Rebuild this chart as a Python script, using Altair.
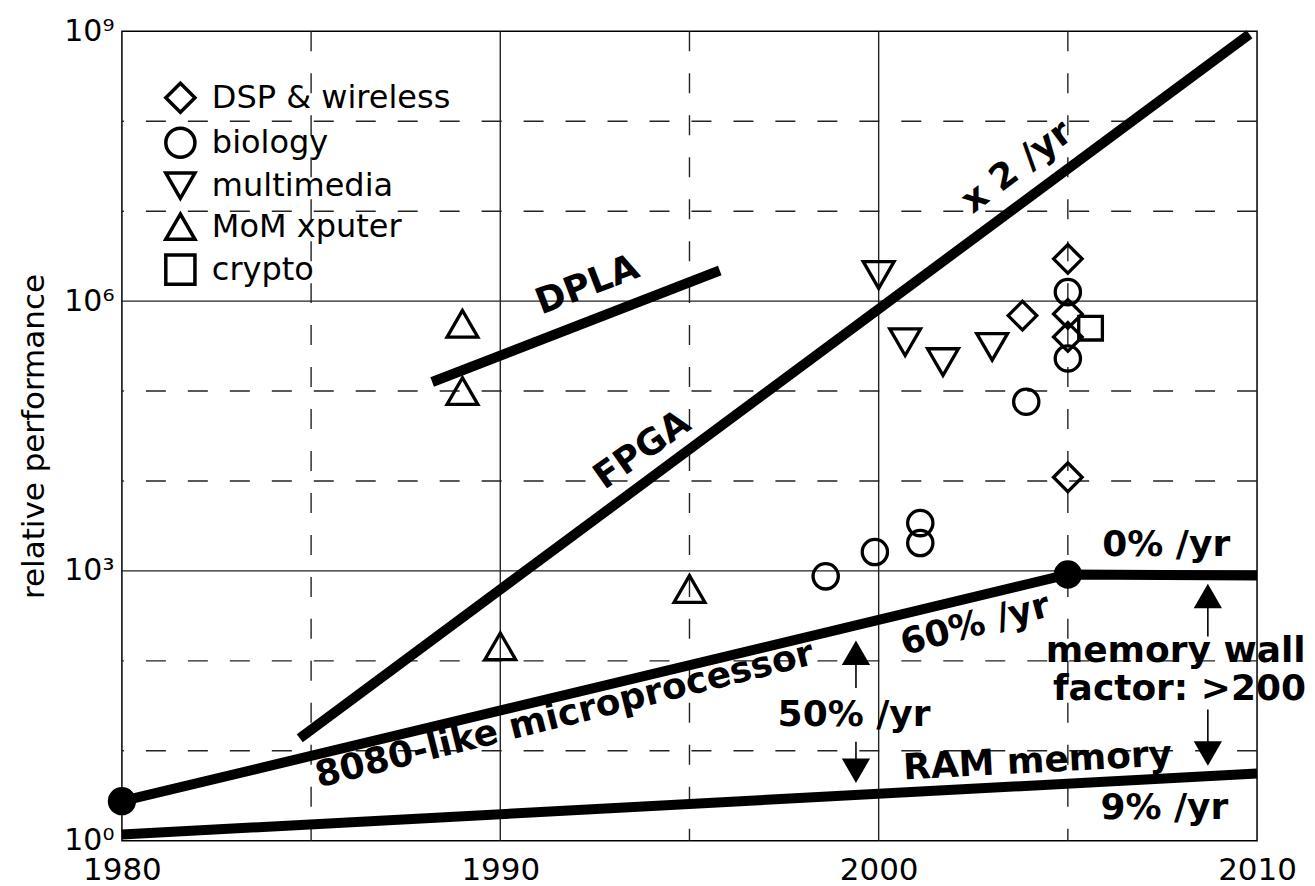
import altair as alt
import pandas as pd

FONT = "DejaVu Sans"

# ---------------- data ----------------
categories = ["DSP & wireless", "biology", "multimedia", "MoM xputer", "crypto"]
shapes = ["diamond", "circle", "triangle-down", "triangle-up", "square"]
marker_area = {"DSP & wireless": 820, "biology": 640, "multimedia": 950, "MoM xputer": 950, "crypto": 560}

dsp_year = [2005.0, 2005.0, 2005.0, 2003.8, 2005.0]
dsp_perf = [2.95e6, 7.2e5, 4.0e5, 6.9e5, 1.1e4]
bio_year = [2005.0, 2005.0, 2003.9, 1998.6, 1999.9, 2001.1, 2001.1]
bio_perf = [1.26e6, 2.3e5, 7.6e4, 870, 1620, 3400, 2040]
mm_year = [2000.0, 2000.7, 2001.7, 2003.0]
mm_perf = [1.95e6, 3.5e5, 2.1e5, 3.1e5]
mom_year = [1989.0, 1989.0, 1990.0, 1995.0]
mom_perf = [5.6e5, 1.0e5, 145, 630]
crypto_year = [2005.6]
crypto_perf = [5.0e5]

# trend lines
fpga_year = [1984.7, 2009.8]
fpga_perf = [13.8, 9.3e8]
dpla_year = [1988.2, 1995.8]
dpla_perf = [1.26e5, 2.19e6]
cpu_year = [1980.0, 2005.0, 2010.0]
cpu_perf = [2.75, 912, 891]
ram_year = [1980.0, 2010.0]
ram_perf = [1.17, 5.6]
dot_year = [1980.0, 2005.0]
dot_perf = [2.75, 912]

# annotations (anchored in data coordinates)
note_text = ["DPLA", "FPGA", "x 2 /yr", "8080-like microprocessor", "60% /yr",
             "0% /yr", "50% /yr", "memory wall", "factor: >200", "RAM memory", "9% /yr"]
note_year = [1992.3, 1993.75, 2003.65, 1991.7, 2002.55, 2007.6, 1999.35, 2007.85, 2007.95, 2004.2, 2007.55]
note_perf = [1.5e6, 2.2e4, 3.1e7, 25, 251, 1940, 25, 130, 48, 7.6, 2.3]
note_angle = [339, 325, 323, 346, 345, 0, 0, 0, 0, 357, 0]

# arrows: 50%/yr gap and memory wall
arrow_year = [1999.4, 2008.7]
arrow_up_head = [123, 525]
arrow_up_tail = [50, 186]
arrow_dn_tail = [12.6, 28.8]
arrow_dn_head = [6.0, 9.3]

# axes / grid
x_ticks = [1980, 1990, 2000, 2010]
y_ticks = [1, 1e3, 1e6, 1e9]
y_tick_labels = ["10⁰", "10³", "10⁶", "10⁹"]
grid_solid_x = [1990, 2000]
grid_dash_x = [1985, 1995, 2005]
grid_solid_y = [1e3, 1e6]
grid_dash_y = [10, 100, 1e4, 1e5, 1e7, 1e8]

# ---------------- tables ----------------
rows = []
for cat, ys, ps in zip(categories,
                       [dsp_year, bio_year, mm_year, mom_year, crypto_year],
                       [dsp_perf, bio_perf, mm_perf, mom_perf, crypto_perf]):
    for yr, p in zip(ys, ps):
        rows.append({"category": cat, "year": yr, "perf": p, "area": marker_area[cat]})
pts = pd.DataFrame(rows)

lrows = []
for name, ys, ps in [("fpga", fpga_year, fpga_perf), ("dpla", dpla_year, dpla_perf),
                     ("cpu", cpu_year, cpu_perf), ("ram", ram_year, ram_perf)]:
    for i, (yr, p) in enumerate(zip(ys, ps)):
        lrows.append({"series": name, "year": yr, "perf": p, "ord": i})
lines = pd.DataFrame(lrows)

dots = pd.DataFrame({"year": dot_year, "perf": dot_perf})
notes = pd.DataFrame({"text": note_text, "year": note_year, "perf": note_perf, "angle": note_angle})

shafts = pd.DataFrame({
    "year": arrow_year + arrow_year,
    "perf": arrow_up_head + arrow_dn_tail,
    "perf2": arrow_up_tail + arrow_dn_head,
})
heads = pd.DataFrame({
    "year": arrow_year + arrow_year,
    "perf": arrow_up_head + arrow_dn_head,
    "dir": ["up", "up", "down", "down"],
})

# ---------------- scales / axes ----------------
x_scale = alt.Scale(domain=[1980, 2010], nice=False, zero=False)
y_scale = alt.Scale(type="log", domain=[1, 1e9], nice=False)

label_expr = " : ".join(f"datum.value == {v} ? '{l}'" for v, l in zip(y_ticks, y_tick_labels)) + " : ''"

X_AXIS = alt.Axis(values=x_ticks, format="d", labelFont=FONT, labelFontSize=31, labelColor="black",
                  labelPadding=15, ticks=False, domain=False, grid=False, title=None,
                  labelFlush=False, labelOverlap=False, labelBound=False)
Y_AXIS = alt.Axis(values=y_ticks, labelExpr=label_expr, labelFont=FONT, labelFontSize=30,
                  labelColor="black", labelPadding=8, ticks=False, domain=False, grid=False,
                  labelFlush=False, labelOverlap=False, labelBound=False,
                  title="relative performance", titleFont=FONT, titleFontSize=31,
                  titleFontWeight="normal", titleColor="black", titleAngle=270,
                  titleX=-87, titleY=405, titleAlign="center", titleBaseline="middle")


def X(field="year"):
    return alt.X(f"{field}:Q", scale=x_scale, axis=X_AXIS)


def Y(field="perf"):
    return alt.Y(f"{field}:Q", scale=y_scale, axis=Y_AXIS)


# ---------------- layers ----------------
gx_solid = alt.Chart(pd.DataFrame({"year": grid_solid_x})).mark_rule(
    color="#222", strokeWidth=1.4).encode(x=X())
gx_dash = alt.Chart(pd.DataFrame({"year": grid_dash_x})).mark_rule(
    color="#222", strokeWidth=1.4, strokeDash=[20, 22]).encode(x=X())
gy_solid = alt.Chart(pd.DataFrame({"perf": grid_solid_y})).mark_rule(
    color="#222", strokeWidth=1.4).encode(y=Y())
gy_dash = alt.Chart(pd.DataFrame({"perf": grid_dash_y})).mark_rule(
    color="#222", strokeWidth=1.4, strokeDash=[20, 22]).encode(y=Y())

trend = alt.Chart(lines).mark_line(color="black", strokeWidth=10, strokeCap="butt").encode(
    x=X(), y=Y(), detail="series:N", order="ord:Q")

big_dots = alt.Chart(dots).mark_point(filled=True, color="black", size=800, shape="circle", opacity=1).encode(
    x=X(), y=Y())

points = alt.Chart(pts).mark_point(filled=False, color="black", strokeWidth=3.3, opacity=1).encode(
    x=X(), y=Y(),
    size=alt.Size("area:Q", scale=None, legend=None),
    shape=alt.Shape("category:N", scale=alt.Scale(domain=categories, range=shapes),
                    legend=alt.Legend(orient="none", legendX=42, legendY=50, title=None,
                                      symbolSize=850, symbolStrokeWidth=3.5,
                                      symbolStrokeColor="black", symbolFillColor="white",
                                      labelFont=FONT, labelFontSize=32, labelColor="black",
                                      labelLimit=600, labelOffset=15, rowPadding=0, padding=0)),
)

shaft = alt.Chart(shafts).mark_rule(color="black", strokeWidth=1.6).encode(
    x=X(), y=Y(), y2="perf2:Q")

head = alt.Chart(heads).mark_point(filled=True, color="black", size=800, opacity=1).encode(
    x=X(), y=Y(),
    shape=alt.Shape("dir:N", scale=alt.Scale(domain=["up", "down"], range=["triangle-up", "triangle-down"]),
                    legend=None))

labels = alt.Chart(notes).mark_text(font=FONT, fontWeight="bold", fontSize=36, color="black",
                                    align="center", baseline="middle").encode(
    x=X(), y=Y(), text="text:N", angle=alt.Angle("angle:Q", scale=None))

chart = alt.layer(gx_dash, gy_dash, gx_solid, gy_solid, trend, points, big_dots, shaft, head, labels).resolve_scale(
    shape="independent"
).properties(
    width=1136, height=810,
    padding={"left": 114, "top": 23, "right": 50, "bottom": 60},
    autosize=alt.AutoSizeParams(type="none"),
    background="white",
).configure_view(stroke="black", strokeWidth=1.5)

chart.save("out.html", embed_options={"renderer": "svg", "actions": False})
